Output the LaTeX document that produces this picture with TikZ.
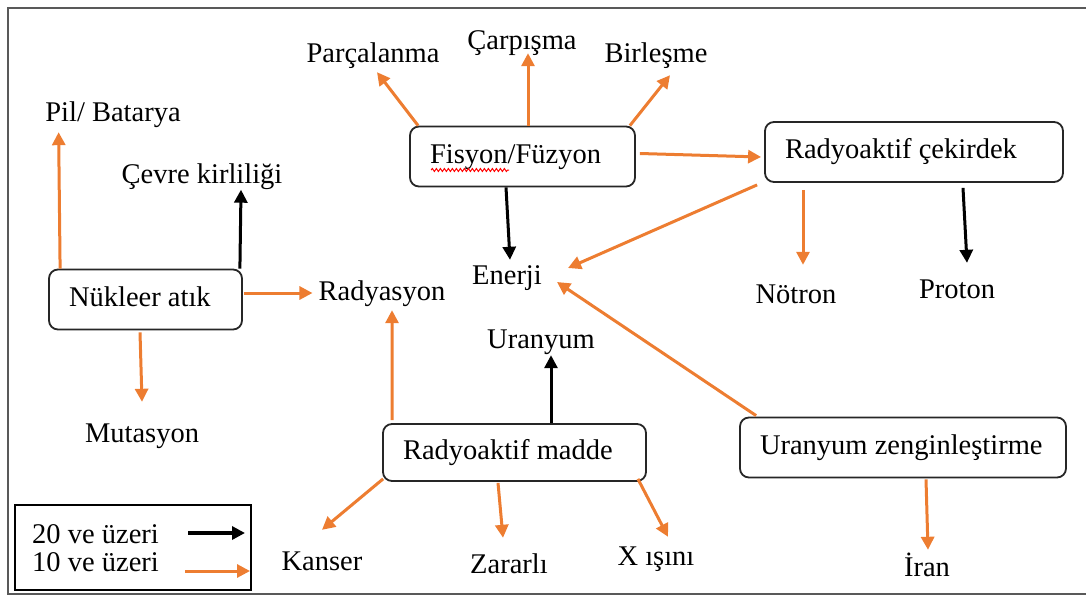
\documentclass[tikz,border=0pt]{standalone}
\usepackage{fontspec}
\setmainfont{Liberation Serif}
\usepackage{tikz}
\usetikzlibrary{arrows.meta, decorations.pathmorphing}
\definecolor{turuncu}{RGB}{237,125,49}
\newcommand{\yazi}{\fontsize{28.5}{34}\selectfont}
\newcommand{\kutuyazi}[2]{\makebox[#1][l]{#2}}
\tikzset{
  kutu/.style={rectangle, draw=black!85, line width=1.8pt, rounded corners=9pt, minimum height=60pt,
    inner xsep=20pt, inner ysep=0pt, text height=19pt, text depth=6pt, font=\yazi},
  etiket/.style={inner sep=0pt, text height=19pt, text depth=6pt, font=\yazi},
  ok/.style={line width=3pt, -{Triangle[length=13pt,width=13pt]}},
  siyahok/.style={ok, black},
  turuncuok/.style={ok, turuncu},
  dalga/.style={red, line width=1pt, decorate, decoration={snake, amplitude=1.5pt, segment length=4pt}}
}
\begin{document}
\begin{tikzpicture}[x=1pt, y=-1pt]
    \useasboundingbox (0,0) rectangle (1086,597);
    \clip (0,0) rectangle (1086,597);
    \draw[black!65, line width=2pt] (8,8) rectangle (1100,594);

    \node (fisyon)   at (522.5,156.5) [kutu] {\kutuyazi{185pt}{Fisyon/Füzyon}};
    \node (cekirdek) at (914,152)     [kutu] {\kutuyazi{258pt}{Radyoaktif çekirdek}};
    \node (atik)     at (145.5,299.5) [kutu] {\kutuyazi{153pt}{Nükleer atık}};
    \node (madde)    at (514.5,452.5) [kutu, minimum height=57pt] {\kutuyazi{223pt}{Radyoaktif madde}};
    \node (zengin)   at (903,447.5)   [kutu] {\kutuyazi{286pt}{Uranyum zenginleştirme}};
    \draw[dalga] ([xshift=22pt,yshift=-13.5pt]fisyon.west) -- ([xshift=100pt,yshift=-13.5pt]fisyon.west);

    \node (parcalanma) at (373,55.5)  [etiket] {Parçalanma};
    \node (carpisma)   at (522,43)    [etiket] {Çarpışma};
    \node (birlesme)   at (656,55.5)  [etiket] {Birleşme};
    \node (pil)        at (113,114.5) [etiket] {Pil/ Batarya};
    \node (cevre)      at (202,177)   [etiket] {Çevre kirliliği};
    \node (enerji)     at (507,277.5) [etiket] {Enerji};
    \node (radyasyon)  at (382,293.5) [etiket] {Radyasyon};
    \node (notron)     at (796,296.5) [etiket] {Nötron};
    \node (proton)     at (957,291.5) [etiket] {Proton};
    \node (uranyum)    at (541,341.5) [etiket] {Uranyum};
    \node (mutasyon)   at (142,435.5) [etiket] {Mutasyon};
    \node (kanser)     at (322,563.5) [etiket] {Kanser};
    \node (zararli)    at (509,566.5) [etiket] {Zararlı};
    \node (xisini)     at (656,558.5) [etiket] {X ışını};
    \node (iran)       at (927,569.5) [etiket] {İran};

    \draw[turuncuok] ([xshift=9pt]fisyon.north west) -- ([xshift=4pt,yshift=-4pt]parcalanma.south);
    \draw[turuncuok] ([xshift=5.5pt]fisyon.north) -- ([xshift=6pt,yshift=2.5pt]carpisma.south);
    \draw[turuncuok] ([xshift=-6pt]fisyon.north east) -- ([xshift=14pt,yshift=-7pt]birlesme.south);
    \draw[turuncuok] ([xshift=4pt,yshift=3pt]fisyon.east) -- ([xshift=-3pt,yshift=-5pt]cekirdek.west);
    \draw[siyahok] ([xshift=-16.5pt]fisyon.south) -- ([xshift=3pt,yshift=5pt]enerji.north);
    \draw[turuncuok] ([xshift=-7pt,yshift=-2pt]cekirdek.south west) -- ([xshift=26pt,yshift=9.5pt]enerji.east);
    \draw[turuncuok] ([xshift=-111pt,yshift=-7pt]cekirdek.south) -- ([xshift=7pt,yshift=19pt]notron.north);
    \draw[siyahok] ([xshift=49pt,yshift=-5pt]cekirdek.south) -- ([xshift=10pt,yshift=16pt]proton.north);
    \draw[turuncuok] ([xshift=12pt]atik.north west) -- ([xshift=13.5pt,yshift=-5pt]pil.south west);
    \draw[siyahok] ([xshift=-3pt]atik.north east) -- ([xshift=39pt]cevre.south);
    \draw[turuncuok] ([xshift=1pt,yshift=6.5pt]atik.east) -- ([xshift=-6pt,yshift=0.5pt]radyasyon.west);
    \draw[turuncuok] ([xshift=-5.5pt,yshift=-2pt]atik.south) -- ([yshift=21pt]mutasyon.north);
    \draw[turuncuok] ([xshift=10pt,yshift=3pt]madde.north west) -- ([xshift=10pt,yshift=-4pt]radyasyon.south);
    \draw[siyahok] ([xshift=36.5pt]madde.north) -- ([xshift=10pt,yshift=-1pt]uranyum.south);
    \draw[turuncuok] ([xshift=17pt,yshift=1pt]zengin.north west) -- ([xshift=15pt,yshift=-4.5pt]enerji.east);
    \draw[turuncuok] ([xshift=1pt,yshift=3pt]madde.south west) -- ([yshift=21pt]kanser.north);
    \draw[turuncuok] ([xshift=-16.5pt,yshift=-1pt]madde.south) -- ([xshift=-6pt,yshift=16pt]zararli.north);
    \draw[turuncuok] ([xshift=-9pt,yshift=3pt]madde.south east) -- ([xshift=12pt,yshift=9pt]xisini.north);
    \draw[turuncuok] ([xshift=23pt,yshift=-1pt]zengin.south) -- ([xshift=1pt,yshift=7pt]iran.north);

    \node (aciklama) at (133,547.5) [draw, line width=1.8pt, minimum width=236pt, minimum height=85pt] {};
    \node (yirmi) at (32,536.5) [etiket, anchor=west] {20 ve üzeri};
    \node (on)    at (32,564.5) [etiket, anchor=west] {10 ve üzeri};
    \coordinate (siyahuc)   at (245,533);
    \coordinate (turuncuuc) at (250,571);
    \draw[siyahok, line width=4pt] ([xshift=29.4pt,yshift=3.5pt]yirmi.east) -- (siyahuc);
    \draw[turuncuok] ([xshift=26.4pt,yshift=-6.5pt]on.east) -- (turuncuuc);
\end{tikzpicture}
\end{document}
